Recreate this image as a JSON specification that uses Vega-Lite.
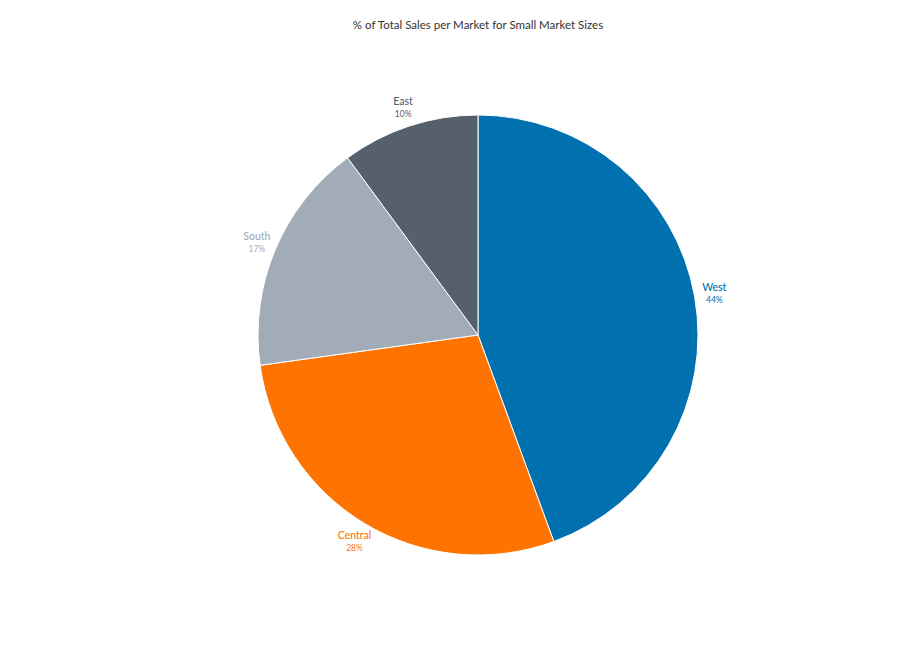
{
  "$schema": "https://vega.github.io/schema/vega-lite/v6.json",
  "autosize": "none",
  "width": 600,
  "height": 560,
  "padding": {"left": 178, "top": 55, "right": 0, "bottom": 0},
  "background": "white",
  "title": {
    "text": "% of Total Sales per Market for Small Market Sizes",
    "anchor": "middle",
    "fontSize": 11.5,
    "fontWeight": "normal",
    "font": "Lato",
    "color": "#333333",
    "offset": 24
  },
  "config": {"view": {"stroke": null}},
  "data": {
    "values": [
      {"market": "West", "share": 0.444},
      {"market": "Central", "share": 0.284},
      {"market": "South", "share": 0.171},
      {"market": "East", "share": 0.101}
    ]
  },
  "encoding": {
    "theta": {"field": "share", "type": "quantitative", "stack": true},
    "order": {"field": "share", "sort": "descending"},
    "color": {
      "field": "market",
      "type": "nominal",
      "legend": null,
      "scale": {
        "domain": ["West", "Central", "South", "East"],
        "range": ["#0070ae", "#ff7400", "#a2acb8", "#56606c"]
      }
    }
  },
  "layer": [
    {"mark": {"type": "arc", "radius": 220, "stroke": "white", "strokeWidth": 1}},
    {
      "mark": {"type": "text", "radius": 240, "dy": -5, "fontSize": 10.5, "font": "Lato", "fontWeight": 500},
      "encoding": {"text": {"field": "market", "type": "nominal"}}
    },
    {
      "mark": {"type": "text", "radius": 240, "dy": 7, "fontSize": 8.5, "font": "Lato"},
      "encoding": {"text": {"field": "share", "type": "quantitative", "format": ".0%"}}
    }
  ]
}
